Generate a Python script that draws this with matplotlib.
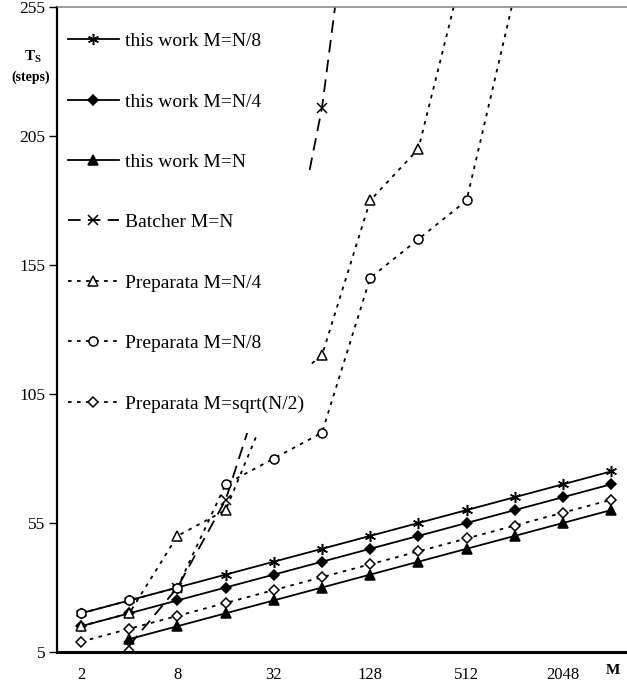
import matplotlib.pyplot as plt
import numpy as np
from matplotlib.path import Path
from matplotlib.ticker import NullLocator

plt.rcParams['font.family'] = ['Liberation Serif', 'DejaVu Serif']
plt.rcParams['mathtext.fontset'] = 'custom'
plt.rcParams['mathtext.bf'] = 'Liberation Serif:bold'
plt.rcParams['mathtext.rm'] = 'Liberation Serif'

# data
M = [2, 4, 8, 16, 32, 64, 128, 256, 512, 1024, 2048, 4096]
xtick_vals = [2, 8, 32, 128, 512, 2048]
ytick_vals = [5, 55, 105, 155, 205, 255]
nan = np.nan

this_n8 = [20, 25, 30, 35, 40, 45, 50, 55, 60, 65, 70, 75]
this_n4 = [15, 20, 25, 30, 35, 40, 45, 50, 55, 60, 65, 70]
this_n = [nan, 10, 15, 20, 25, 30, 35, 40, 45, 50, 55, 60]
batcher_n = [nan, 7.5, 30, 64, 122, 216, 360, nan, nan, nan, nan, nan]
prep_n4 = [15, 20, 50, 60, 105, 120, 180, 200, 275, nan, nan, nan]
prep_n8 = [20, 25, 30, 70, 80, 90, 150, 165, 180, 260, nan, nan]
prep_sqrt = [9, 14, 19, 24, 29, 34, 39, 44, 49, 54, 59, 64]

series = [
    ("this work M=N/8", this_n8, '-', (6, 2, 0), 'black', 8),
    ("this work M=N/4", this_n4, '-', 'D', 'black', 5.5),
    ("this work M=N", this_n, '-', '^', 'black', 7),
    ("Batcher M=N", batcher_n, (0, (7, 4)), 'x', 'black', 7),
    ("Preparata M=N/4", prep_n4, (0, (2, 3)), '^', 'white', 6.5),
    ("Preparata M=N/8", prep_n8, (0, (2, 3)), 'o', 'white', 6.5),
    ("Preparata M=sqrt(N/2)", prep_sqrt, (0, (2, 3)), 'D', 'white', 5),
]

fig = plt.figure(figsize=(6.27, 6.84), dpi=100)
ax = fig.add_axes([57 / 627, 32 / 684, 570 / 627, 645 / 684])

for label, vals, ls, mk, fc, ms in series:
    ax.plot(M, vals, linestyle=ls, color='black', linewidth=1.3,
            marker=mk, markersize=ms, markerfacecolor=fc,
            markeredgecolor='black', markeredgewidth=1.1, label=label,
            zorder=2)

ax.set_xscale('log', base=2)
ax.set_xlim(2 ** 0.5, 2 ** 12.33)
ax.set_ylim(5, 255)
ax.set_xticks(xtick_vals)
ax.set_xticklabels([str(v) for v in xtick_vals])
ax.xaxis.set_minor_locator(NullLocator())
ax.set_yticks(ytick_vals)
ax.tick_params(axis='x', length=0, pad=11, labelsize=12)
ax.tick_params(axis='y', length=6, width=1, direction='out', pad=2.5, labelsize=12.5)
ax.set_axisbelow(False)

ax.spines['right'].set_visible(False)
ax.spines['top'].set_color('#8c8c8c')
ax.spines['top'].set_linewidth(1.2)
ax.spines['left'].set_linewidth(1.6)
ax.spines['bottom'].set_linewidth(2.2)


def tall_box(x0, y0, width, height, mutation_size):
    # legend background: tight left/right, roomy top/bottom
    p = 0.8 * mutation_size
    return Path([(x0, y0 - p), (x0 + width, y0 - p), (x0 + width, y0 + height + p),
                 (x0, y0 + height + p), (x0, y0 - p)], closed=True)


leg = ax.legend(loc='upper left', bbox_to_anchor=(0.011, 0.968), frameon=True,
                facecolor='white', edgecolor='none', framealpha=1, fancybox=False,
                fontsize=14, numpoints=1, handlelength=2.6, handletextpad=0.3,
                labelspacing=2.2, borderpad=0.25, borderaxespad=0)
leg.get_frame().set_linewidth(0)
leg.legendPatch.set_boxstyle(tall_box)
leg.set_zorder(2.2)

fig.text(33 / 627, 1 - 57 / 684, r'$\mathbf{T_S}$', ha='center', va='center', fontsize=11)
fig.text(31 / 627, 1 - 77 / 684, '(steps)', ha='center', va='center',
         fontsize=10, fontweight='bold')
ax.text(613 / 627, 1 - 670 / 684, 'M', transform=fig.transFigure, ha='center',
        va='center', fontsize=11, fontweight='bold')

fig.savefig('out.png', dpi=100)
